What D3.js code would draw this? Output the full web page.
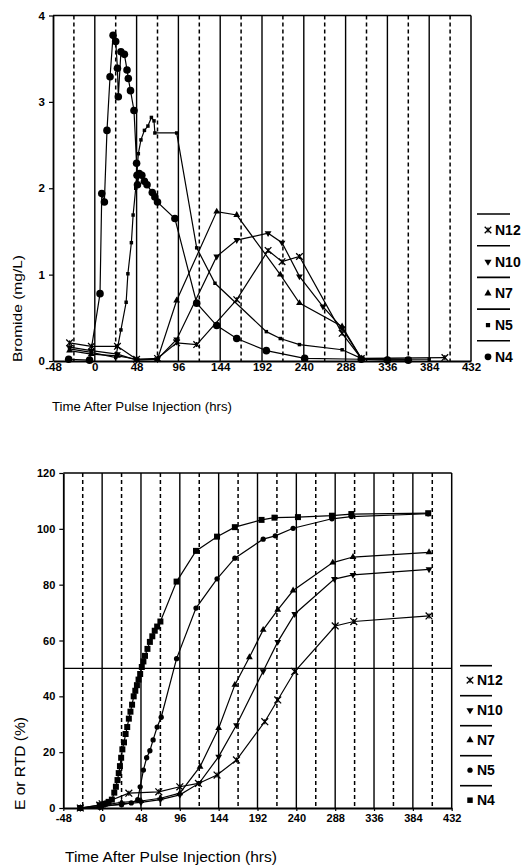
<!DOCTYPE html>
<html>
<head>
<meta charset="utf-8">
<script src="https://cdn.jsdelivr.net/npm/d3@7"></script>
<style>
  body { margin: 0; background: #fff; }
  svg text { font-family: "Liberation Sans", Arial, sans-serif; fill: #000; }
</style>
</head>
<body>
<svg id="chart" width="526" height="865"></svg>
<script>
// Time axis (hrs), shared by both panels
const timeTicks = [-48, 0, 48, 96, 144, 192, 240, 288, 336, 384, 432];
const solidGrid = [0, 48, 96, 144, 192, 240, 288, 336, 384];
const dashedGrid = [-24, 24, 72, 120, 168, 216, 264, 312, 360, 408];
const legendNames = ["N12", "N10", "N7", "N5", "N4"];

// Top panel: Bromide (mg/L), [hrs, value]
const bromideTicks = [0, 1, 2, 3, 4];
const bromideN4 = [[-30,0.02],[-6,0.01],[6,0.78],[8,1.94],[11,1.84],[14,2.67],[17.5,3.29],[21,3.77],[24,3.70],[26,3.39],[27,3.06],[30,3.58],[34,3.55],[37,3.37],[38.5,3.27],[41,3.13],[45,2.90],[48,2.29],[48.5,2.15],[49,2.04],[51,2.17],[54,2.15],[57,2.08],[60,2.04],[66,1.95],[69,1.90],[72,1.84],[92,1.65],[117,0.67],[140,0.41],[163,0.26],[197,0.12],[241,0.03],[306,0.02],[336,0.01],[360,0.01]];
const bromideN5 = [[-29,0.14],[-4,0.10],[24,0.04],[30,0.36],[36,0.68],[38,1.01],[42,1.37],[44,1.69],[47,2.00],[50,2.40],[53,2.56],[57,2.67],[61,2.72],[65,2.82],[68,2.78],[69,2.64],[94,2.64],[117,1.31],[138,0.90],[197,0.34],[213,0.26],[235,0.19],[284,0.13],[306,0.03],[336,0.02],[384,0.02]];
const bromideN7 = [[-29,0.12],[-4,0.08],[26,0.06],[48,0.02],[72,0.02],[94,0.70],[140,1.73],[163,1.69],[213,1.00],[235,0.67],[284,0.40],[306,0.03],[336,0.02]];
const bromideN10 = [[-29,0.16],[-4,0.12],[26,0.08],[48,0.01],[72,0.02],[94,0.25],[140,1.21],[163,1.40],[199,1.48],[215,1.37],[235,0.98],[262,0.63],[284,0.38],[306,0.03],[360,0.02]];
const bromideN12 = [[-29,0.21],[-4,0.17],[26,0.17],[48,0.02],[72,0.03],[94,0.21],[117,0.19],[163,0.71],[199,1.28],[215,1.15],[235,1.21],[284,0.32],[306,0.03],[402,0.04]];

// Bottom panel: E or RTD (%), [hrs, value]
const rtdTicks = [0, 20, 40, 60, 80, 100, 120];
const rtdN4 = [[-27,0],[-3,1],[3,1.5],[8,2.2],[12,3],[15,5.5],[17,7.6],[19,10],[20.5,12.5],[22,15],[23.5,18],[25,21],[27,23.5],[29,26.5],[31,29],[33,32],[35,34.5],[37,37],[39,40],[41,42],[43,44],[45,46],[47,48],[49,50.5],[51,52.5],[53,54.5],[56,57],[59,59.5],[62,61.5],[65,63.5],[68,65],[72,66.8],[92,81.1],[116,92.1],[142,97.2],[164,100.6],[197,103.2],[213,104],[242,104.2],[284,104.7],[308,105.3],[403,105.6]];
const rtdN5 = [[-27,0],[-3,0.3],[0,0.8],[24,1.2],[36,1.8],[44,3],[47,7.6],[51,13.6],[55,18],[59,20.5],[63,24.4],[68,29],[73,32.5],[92,53.5],[116,71.6],[142,82.1],[164,89.5],[199,96.3],[214,97.5],[236,100.2],[284,103.6],[308,104.4],[403,105.4]];
const rtdN7 = [[-27,0],[-3,0.5],[0,1],[24,2],[48,2.5],[72,3.5],[96,5.3],[121,14.8],[144,28.6],[164,44.1],[182,54],[199,63.8],[217,71],[236,77.9],[285,87.9],[310,89.9],[404,91.6]];
const rtdN10 = [[-27,0],[-3,0.3],[0,0.5],[24,1.5],[48,2],[72,3],[96,4.7],[120,8.9],[144,18.4],[166,29.7],[199,49],[217,59.5],[238,69.5],[287,82],[310,83.5],[404,85.5]];
const rtdN12 = [[-27,0],[-3,1],[0,1.5],[33,5.3],[70,5.8],[96,7.6],[119,8.8],[142,11.8],[166,17.2],[201,30.9],[217,38.7],[238,48.9],[288,65.2],[311,66.8],[404,68.8]];

const svg = d3.select("#chart");

// draw one marker shape at x,y
function marker(g, kind, x, y, s) {
  if (kind === "asterisk") {
    g.append("path")
      .attr("d", d3.symbol().type(d3.symbolTimes).size(s)())
      .attr("transform", `translate(${x},${y})`)
      .attr("fill", "none").attr("stroke", "#000").attr("stroke-width", 1.3);
    const r = Math.sqrt(s) * 0.45;
    g.append("line").attr("x1", x).attr("x2", x).attr("y1", y - r).attr("y2", y + r)
      .attr("stroke", "#000").attr("stroke-width", 1.3);
    return;
  }
  const types = { circle: d3.symbolCircle, square: d3.symbolSquare, up: d3.symbolTriangle, down: d3.symbolTriangle };
  g.append("path")
    .attr("d", d3.symbol().type(types[kind]).size(s)())
    .attr("transform", `translate(${x},${y})` + (kind === "down" ? " rotate(180)" : ""))
    .attr("fill", "#000");
}

function panel(opt) {
  const x = d3.scaleLinear().domain([-48, 432]).range([opt.left, opt.right]);
  const y = d3.scaleLinear().domain(opt.yDomain).range([opt.bottom, opt.top]);
  const g = svg.append("g");

  // vertical grid
  g.selectAll(".solid").data(solidGrid).join("line")
    .attr("x1", d => x(d)).attr("x2", d => x(d))
    .attr("y1", opt.top).attr("y2", opt.bottom)
    .attr("stroke", "#000").attr("stroke-width", 1.4);
  g.selectAll(".dash").data(dashedGrid).join("line")
    .attr("x1", d => x(d)).attr("x2", d => x(d))
    .attr("y1", opt.top).attr("y2", opt.bottom)
    .attr("stroke", "#000").attr("stroke-width", 1.5)
    .attr("stroke-dasharray", "4,3");

  // frame top and right
  g.append("line").attr("x1", opt.left).attr("x2", opt.right)
    .attr("y1", opt.top).attr("y2", opt.top).attr("stroke", "#000").attr("stroke-width", 1.5);
  g.append("line").attr("x1", opt.right).attr("x2", opt.right)
    .attr("y1", opt.top).attr("y2", opt.bottom).attr("stroke", "#000").attr("stroke-width", 1.5);

  if (opt.refLine !== undefined) {
    g.append("line").attr("x1", opt.left).attr("x2", opt.right)
      .attr("y1", y(opt.refLine)).attr("y2", y(opt.refLine))
      .attr("stroke", "#000").attr("stroke-width", 1.3);
  }

  // axes (plain hyphen for negatives, integers only)
  const fmt = d => String(d);
  const xAxis = g.append("g").attr("transform", `translate(0,${opt.bottom})`)
    .call(d3.axisBottom(x).tickValues(timeTicks).tickFormat(fmt)
      .tickSize(opt.xTickSize).tickPadding(opt.xPad).tickSizeOuter(0));
  const yAxis = g.append("g").attr("transform", `translate(${opt.left},0)`)
    .call(d3.axisLeft(y).tickValues(opt.yTicks).tickFormat(fmt)
      .tickSize(4).tickPadding(opt.yPad).tickSizeOuter(0));
  [xAxis, yAxis].forEach(a => {
    a.select(".domain").attr("stroke-width", 1.8);
    a.selectAll(".tick line").attr("stroke-width", 1.2);
    a.selectAll("text").attr("font-size", opt.tickFont).attr("font-weight", opt.tickWeight)
      .attr("font-family", "Liberation Sans, Arial, sans-serif");
  });

  // series
  const line = d3.line().x(d => x(d[0])).y(d => y(d[1]));
  opt.series.forEach(s => {
    g.append("path").datum(s.data).attr("d", line)
      .attr("fill", "none").attr("stroke", "#000").attr("stroke-width", 1.2);
    s.data.forEach(d => marker(g, s.kind, x(d[0]), y(d[1]), s.size));
  });

  // legend
  legendNames.forEach((name, i) => {
    const s = opt.series.find(t => t.name === name);
    const ly = opt.legend.y + i * opt.legend.step;
    g.append("line").attr("x1", opt.legend.x1).attr("x2", opt.legend.x2)
      .attr("y1", ly).attr("y2", ly).attr("stroke", "#000").attr("stroke-width", 1.6);
    marker(g, s.kind, opt.legend.sx, ly + opt.legend.off, s.legSize);
    g.append("text").attr("x", opt.legend.tx).attr("y", ly + opt.legend.off + 5)
      .attr("font-size", 14).attr("font-weight", "bold").text(name);
  });

  // axis titles
  g.append("text").attr("x", opt.xTitle.x).attr("y", opt.xTitle.y)
    .attr("font-size", opt.xTitle.size).attr("textLength", opt.xTitle.len)
    .attr("lengthAdjust", "spacingAndGlyphs").text("Time After Pulse Injection (hrs)");
  g.append("text").attr("transform", `translate(${opt.yTitle.x},${opt.yTitle.y}) rotate(-90)`)
    .attr("font-size", opt.yTitle.size).attr("textLength", opt.yTitle.len)
    .attr("lengthAdjust", "spacingAndGlyphs").text(opt.yTitle.text);
}

panel({
  left: 53, right: 471, top: 15.5, bottom: 361,
  yDomain: [0, 4], yTicks: bromideTicks,
  xTickSize: 0, xPad: 2, yPad: 4, tickFont: 11.5, tickWeight: "bold",
  series: [
    { name: "N4", kind: "circle", data: bromideN4, size: 45, legSize: 36 },
    { name: "N5", kind: "square", data: bromideN5, size: 12, legSize: 18 },
    { name: "N7", kind: "up", data: bromideN7, size: 20, legSize: 22 },
    { name: "N10", kind: "down", data: bromideN10, size: 20, legSize: 22 },
    { name: "N12", kind: "asterisk", data: bromideN12, size: 30, legSize: 30 }
  ],
  legend: { y: 214, step: 31.7, x1: 477, x2: 510, sx: 488, tx: 495, off: 16 },
  xTitle: { x: 52, y: 411, size: 12, len: 180 },
  yTitle: { x: 22, y: 362, size: 13, len: 107, text: "Bromide (mg/L)" }
});

panel({
  left: 63.3, right: 451.7, top: 473, bottom: 808,
  yDomain: [0, 120], yTicks: rtdTicks, refLine: 50,
  xTickSize: 3, xPad: 3, yPad: 4, tickFont: 11, tickWeight: "bold",
  series: [
    { name: "N4", kind: "square", data: rtdN4, size: 36, legSize: 30 },
    { name: "N5", kind: "circle", data: rtdN5, size: 22, legSize: 22 },
    { name: "N7", kind: "up", data: rtdN7, size: 20, legSize: 22 },
    { name: "N10", kind: "down", data: rtdN10, size: 20, legSize: 22 },
    { name: "N12", kind: "asterisk", data: rtdN12, size: 32, legSize: 30 }
  ],
  legend: { y: 665.7, step: 30, x1: 460, x2: 492, sx: 470, tx: 477, off: 14.5 },
  xTitle: { x: 65, y: 862, size: 14, len: 212 },
  yTitle: { x: 25, y: 810, size: 14, len: 93, text: "E or RTD (%)" }
});
</script>
</body>
</html>
